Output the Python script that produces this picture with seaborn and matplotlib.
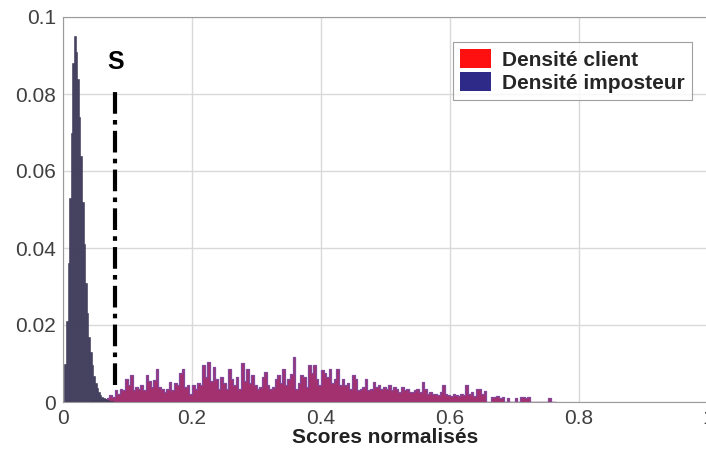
import numpy as np
import pandas as pd
import seaborn as sns
import matplotlib.pyplot as plt
from matplotlib.patches import Patch

# impostor density, bins of 0.0025 starting at 0.002
imp_start = 0.002
imp_width = 0.0025
imp_values = [0.010, 0.021, 0.036, 0.053, 0.070, 0.088, 0.095, 0.091, 0.084, 0.074,
              0.064, 0.052, 0.041, 0.031, 0.023, 0.017, 0.013, 0.0095, 0.0068, 0.005,
              0.0036, 0.0026, 0.0019, 0.0014, 0.001, 0.0007, 0.0005, 0.0004, 0.0003,
              0.0002, 0.0001]

# client density, bins of 0.004 starting at 0.04
cli_start = 0.04
cli_width = 0.004
cli_values = [0.0003, 0.0004, 0.0005, 0.0006, 0.0005,
              0.0005, 0.0008, 0.001, 0.0018, 0.0012, 0.003, 0.002, 0.0035, 0.003, 0.006,
              0.0045, 0.007, 0.003, 0.004, 0.0035, 0.0045, 0.003, 0.007, 0.0055, 0.004,
              0.0057, 0.0087, 0.004, 0.0035, 0.0025, 0.0035, 0.0053, 0.003, 0.005, 0.0045,
              0.0075, 0.0087, 0.004, 0.0045, 0.002, 0.0045, 0.0035, 0.005, 0.0045, 0.0096,
              0.0065, 0.0105, 0.0055, 0.009, 0.006, 0.0035, 0.0065, 0.005, 0.0035, 0.0087,
              0.006, 0.0045, 0.0066, 0.0035, 0.01, 0.0055, 0.0087, 0.005, 0.007, 0.0045,
              0.0035, 0.004, 0.0065, 0.0079, 0.0045, 0.0035, 0.004, 0.006, 0.007, 0.005,
              0.0087, 0.0045, 0.006, 0.0074, 0.0118, 0.0035, 0.005, 0.007, 0.0065, 0.004,
              0.0096, 0.0075, 0.0096, 0.006, 0.0045, 0.0083, 0.0075, 0.0065, 0.0087, 0.005,
              0.006, 0.0087, 0.0045, 0.006, 0.0045, 0.005, 0.0035, 0.007, 0.006, 0.003,
              0.0035, 0.004, 0.006, 0.003, 0.0035, 0.0053, 0.004, 0.0045, 0.0035, 0.004,
              0.0035, 0.0045, 0.003, 0.004, 0.0035, 0.0025, 0.004, 0.003, 0.0035, 0.0027,
              0.0025, 0.003, 0.0035, 0.0027, 0.0053, 0.0035, 0.002, 0.0025, 0.002, 0.0022,
              0.0018, 0.0025, 0.0044, 0.002, 0.0018, 0.0015, 0.002, 0.0018, 0.0015, 0.0022,
              0.0018, 0.0044, 0.002, 0.0027, 0.0015, 0.0035, 0.0035, 0.0022, 0.0028, 0.0,
              0.0, 0.0012, 0.0014, 0.0015, 0.001, 0.0014, 0.0, 0.001, 0.0, 0.0,
              0.001, 0.0, 0.0012, 0.0014, 0.001, 0.0012, 0.0, 0.0, 0.0, 0.0,
              0.0, 0.0, 0.0, 0.0011, 0.0, 0.0]

threshold = 0.08
x_ticks = [0, 0.2, 0.4, 0.6, 0.8, 1.0]
x_tick_labels = ["0", "0.2", "0.4", "0.6", "0.8", "1"]
y_ticks = [0, 0.02, 0.04, 0.06, 0.08, 0.1]
y_tick_labels = ["0", "0.02", "0.04", "0.06", "0.08", "0.1"]


def make_frame(start, width, values):
    edges = start + width * np.arange(len(values) + 1)
    centers = edges[:-1] + width / 2
    return pd.DataFrame({"score": centers, "density": values}), [float(e) for e in edges]


sns.set_style("white")
plt.rcParams["font.family"] = ["Liberation Sans", "DejaVu Sans"]

fig = plt.figure(figsize=(7.06, 4.57), dpi=100)
ax = fig.add_axes([63 / 706, 55 / 457, 645 / 706, 385 / 457])

cli_df, cli_edges = make_frame(cli_start, cli_width, cli_values)
imp_df, imp_edges = make_frame(imp_start, imp_width, imp_values)

# client: one filled step polygon so the bars touch like in the original
sns.histplot(data=cli_df, x="score", weights="density", bins=cli_edges, ax=ax,
             element="step", color="#a3306f", alpha=1, edgecolor="#85479a", linewidth=0.9)
sns.histplot(data=imp_df, x="score", weights="density", bins=imp_edges, ax=ax,
             color="#44405f", alpha=1, edgecolor="#3b3856", linewidth=0.4)

# threshold line
ax.plot([threshold, threshold], [0.0045, 0.0805], color="black", lw=3,
        linestyle=(0, (5.2, 1.5, 1.1, 1.5)), zorder=5)
ax.text(threshold + 0.002, 0.0882, "S", fontsize=18, fontweight="bold",
        ha="center", va="center", color="black")

ax.set_xlim(0, 1)
ax.set_ylim(0, 0.1)
ax.set_xticks(x_ticks)
ax.set_xticklabels(x_tick_labels)
ax.set_yticks(y_ticks)
ax.set_yticklabels(y_tick_labels)
ax.tick_params(labelsize=15, colors="#404040", length=0, pad=5)
ax.grid(True, color="#d9d9d9", lw=1)
ax.set_axisbelow(True)
for s in ax.spines.values():
    s.set_color("#9a9a9a")
ax.set_xlabel("Scores normalisés", fontsize=15, fontweight="bold", color="#222222", labelpad=0)
ax.set_ylabel("")

handles = [Patch(facecolor="#ff1010", edgecolor="none"),
           Patch(facecolor="#2e2a88", edgecolor="none")]
leg = ax.legend(handles, ["Densité client", "Densité imposteur"], loc="upper right",
                bbox_to_anchor=(0.975, 0.935), borderaxespad=0, frameon=True, fancybox=False,
                handlelength=1.5, handleheight=1.0, handletextpad=0.5, borderpad=0.35,
                labelspacing=0.12, prop={"weight": "bold", "size": 15})
leg.get_frame().set_edgecolor("#888888")
leg.get_frame().set_linewidth(0.8)

fig.savefig("out.png", dpi=100)
